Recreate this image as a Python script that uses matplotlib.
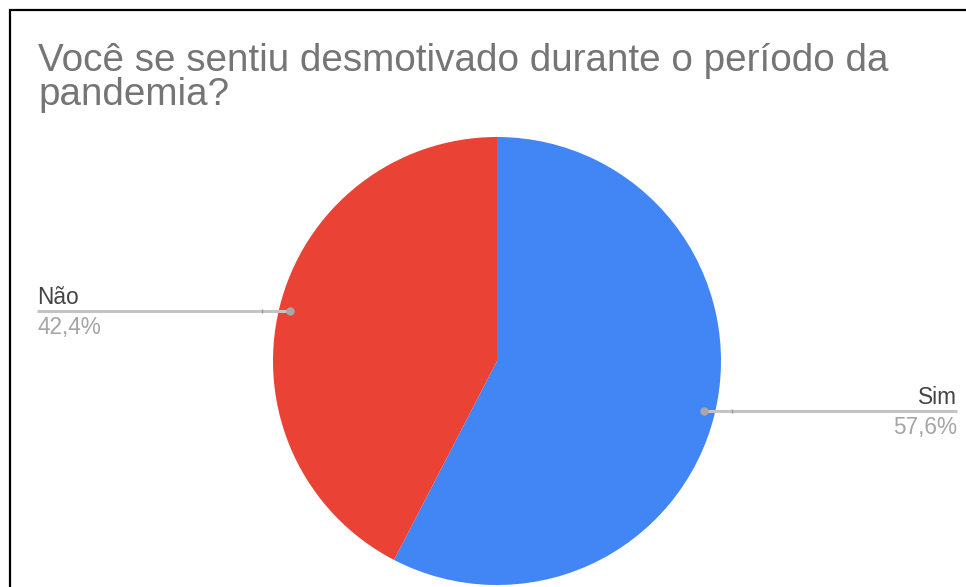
import numpy as np
import matplotlib
matplotlib.use("Agg")
import matplotlib.pyplot as plt
from matplotlib import transforms
from matplotlib.patches import Rectangle

# Survey answers (percent)
labels = ["Sim", "Não"]
values = [57.6, 42.4]
pct_text = ["57,6%", "42,4%"]
slice_colors = ["#4285F4", "#EA4335"]

title_lines = ["Você se sentiu desmotivado durante o período da", "pandemia?"]

W, H, DPI = 966, 587, 100
fig = plt.figure(figsize=(W / DPI, H / DPI), dpi=DPI)
plt.rcParams['font.family'] = ['Liberation Sans', 'DejaVu Sans']

# black frame (right/bottom edges run off the canvas)
fig.patches.append(Rectangle((10 / W, -0.05), 1.1, 1 - 10 / H + 0.05,
                             transform=fig.transFigure, fill=False,
                             edgecolor="black", linewidth=1.6))

# title, two lines
for i, line in enumerate(title_lines):
    fig.text(38 / W, 1 - (71 + 34 * i) / H, line, fontsize=27.8,
             color="#757575", va="baseline", ha="left")

# pie axes: centre (497, 361) px, radius 224 px
cx, cy, r = 497, 361, 224
ax = fig.add_axes([(cx - r) / W, (H - cy - r) / H, 2 * r / W, 2 * r / H])

wedges, _ = ax.pie(values, colors=slice_colors, startangle=90,
                   counterclock=False, radius=1,
                   wedgeprops=dict(linewidth=0))
ax.set_xlim(-1, 1)
ax.set_ylim(-1, 1)
ax.set_aspect("equal")
ax.axis("off")

# leader lines + labels
total = sum(values)
start = 90.0
for lab, val, pt in zip(labels, values, pct_text):
    span = val / total * 360
    mid = np.deg2rad(start - span / 2)
    start -= span
    x0, y0 = 0.95 * np.cos(mid), 0.95 * np.sin(mid)
    side = 1 if np.cos(mid) > 0 else -1
    x_end = side * 2.052
    x_knee = side * 1.05
    ax.plot([x0, x_end], [y0, y0], color="#c4c4c4", lw=2.2,
            solid_capstyle="butt", clip_on=False, zorder=3)
    ax.plot([x0], [y0], "o", color="#a8a8a8", ms=5, clip_on=False, zorder=4)
    ax.plot([x_knee], [y0], "|", color="#999999", ms=3, mew=1,
            clip_on=False, zorder=4)
    ha = "right" if side > 0 else "left"
    up = transforms.offset_copy(ax.transData, fig=fig, x=0, y=5, units="points")
    down = transforms.offset_copy(ax.transData, fig=fig, x=0, y=-3.5, units="points")
    ax.text(x_end, y0, lab, transform=up, ha=ha, va="baseline",
            fontsize=16.3, color="#444444", clip_on=False)
    ax.text(x_end, y0, pt, transform=down, ha=ha, va="top",
            fontsize=16.3, color="#a5a5a5", clip_on=False)

fig.savefig("out.png", dpi=DPI, facecolor="white")
